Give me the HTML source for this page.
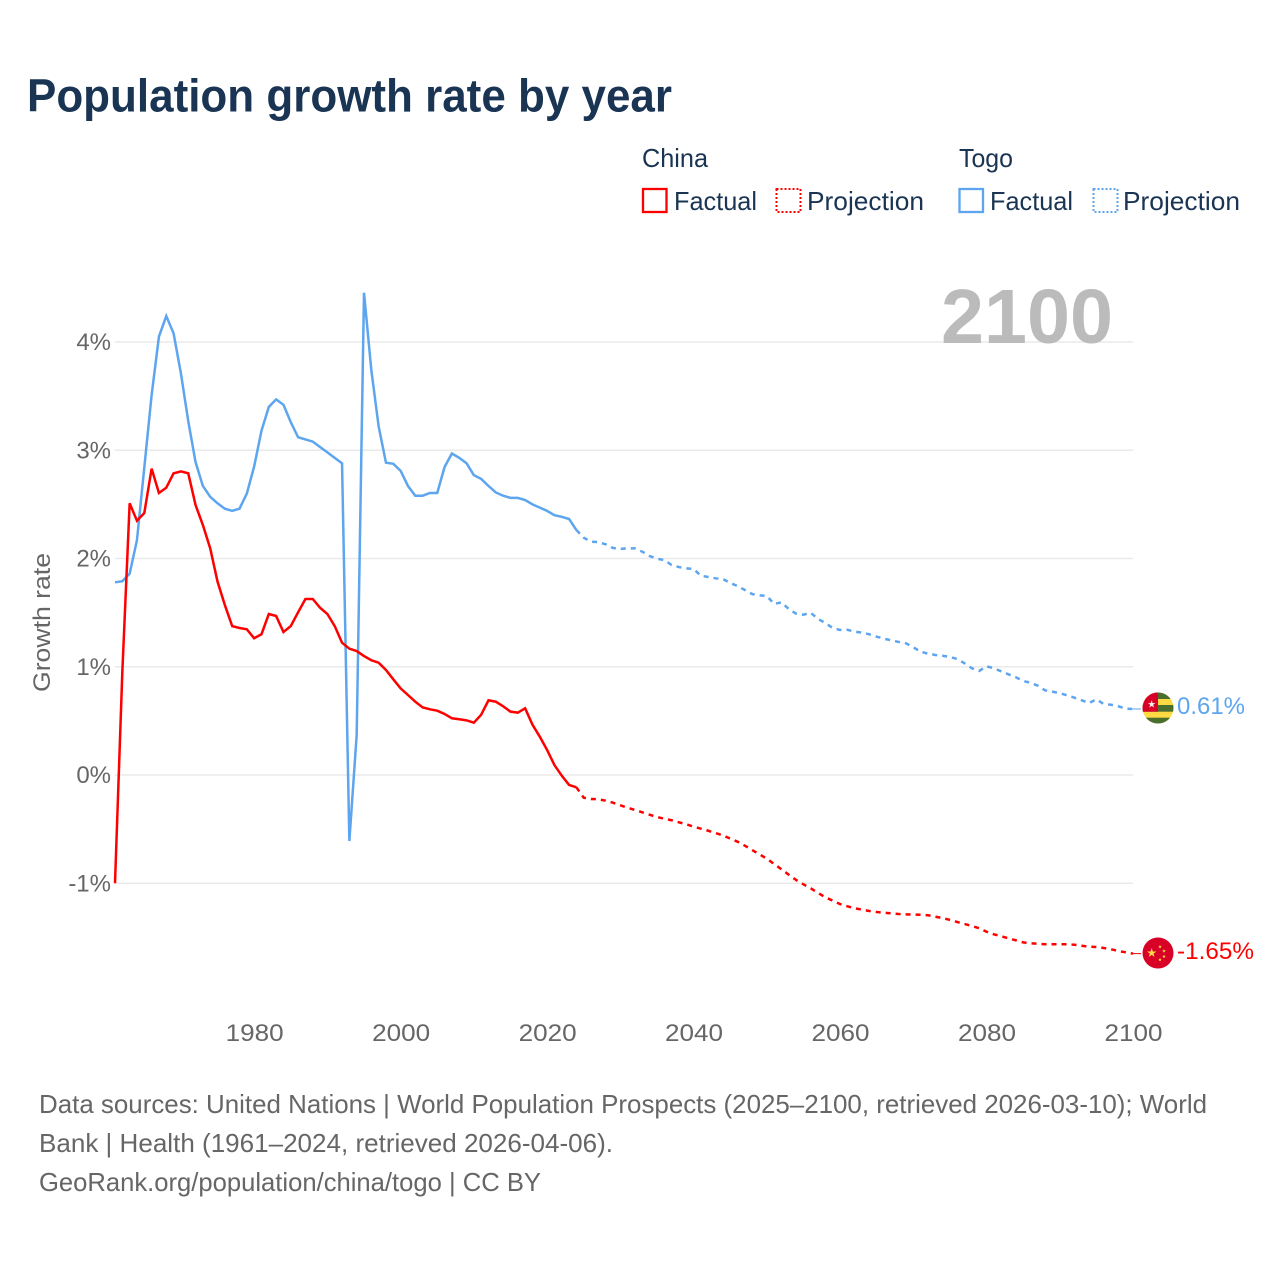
<!DOCTYPE html>
<html lang="en">
<head>
<meta charset="utf-8">
<title>Population growth rate by year</title>
<style>
html,body{margin:0;padding:0;background:#fff;}
svg{display:block;font-family:"Liberation Sans",sans-serif;}
</style>
</head>
<body>
<svg id="chart" xmlns="http://www.w3.org/2000/svg" width="1280" height="1280" viewBox="0 0 1280 1280">
  <rect x="0" y="0" width="1280" height="1280" fill="#ffffff"/>
  <text x="27" y="111.5" font-size="46" font-weight="700" fill="#1a3453" textLength="645" lengthAdjust="spacingAndGlyphs">Population growth rate by year</text>

  <g fill="#1a3453" font-size="26">
    <text x="642" y="167" textLength="66" lengthAdjust="spacingAndGlyphs">China</text>
    <text x="959" y="167" textLength="54" lengthAdjust="spacingAndGlyphs">Togo</text>
    <rect x="643" y="189" width="23.5" height="23" fill="none" stroke="#ff0000" stroke-width="2.3"/>
    <text x="674" y="210" textLength="83" lengthAdjust="spacingAndGlyphs">Factual</text>
    <rect x="776.5" y="189" width="24" height="23" fill="none" stroke="#ff0000" stroke-width="2" stroke-dasharray="2 2"/>
    <text x="807" y="210" textLength="117" lengthAdjust="spacingAndGlyphs">Projection</text>
    <rect x="959.5" y="189" width="23.5" height="23" fill="none" stroke="#5da5ee" stroke-width="2.3"/>
    <text x="990" y="210" textLength="83" lengthAdjust="spacingAndGlyphs">Factual</text>
    <rect x="1093.5" y="189" width="24" height="23" fill="none" stroke="#5da5ee" stroke-width="2" stroke-dasharray="2 2"/>
    <text x="1123" y="210" textLength="117" lengthAdjust="spacingAndGlyphs">Projection</text>
  </g>

  <g id="grid"></g>
  <text x="941" y="343" font-size="77" font-weight="700" fill="#bbbbbb" textLength="172" lengthAdjust="spacingAndGlyphs">2100</text>
  <g id="yticks" font-size="24" fill="#666666"></g>
  <g id="xticks" font-size="24" fill="#666666"></g>
  <text transform="translate(50,692) rotate(-90)" x="0" y="0" font-size="24" fill="#666666" textLength="139" lengthAdjust="spacingAndGlyphs">Growth rate</text>
  <g id="series"></g>

  <defs>
    <clipPath id="flag-clip-togo"><circle cx="1158" cy="708" r="15.5"/></clipPath>
    <clipPath id="flag-clip-china"><circle cx="1158" cy="953" r="15.5"/></clipPath>
  </defs>
  <g clip-path="url(#flag-clip-togo)">
    <rect x="1142" y="692" width="32" height="32" fill="#ffda44"/>
    <rect x="1142" y="692" width="32" height="7" fill="#496e2d"/>
    <rect x="1142" y="705" width="32" height="6.7" fill="#496e2d"/>
    <rect x="1142" y="717.7" width="32" height="6.5" fill="#496e2d"/>
    <rect x="1142" y="692" width="16" height="19.7" fill="#d80027"/>
    <polygon transform="translate(1151.7,704.3) scale(4)" fill="#f0f0f0" points="0,-1 .225,-.309 .951,-.309 .363,.118 .588,.809 0,.382 -.588,.809 -.363,.118 -.951,-.309 -.225,-.309"/>
  </g>
  <g clip-path="url(#flag-clip-china)">
    <rect x="1142" y="937" width="32" height="32" fill="#d80027"/>
    <polygon transform="translate(1151.7,953) scale(5)" fill="#ffda44" points="0,-1 .225,-.309 .951,-.309 .363,.118 .588,.809 0,.382 -.588,.809 -.363,.118 -.951,-.309 -.225,-.309"/>
    <polygon transform="translate(1160,946.7) scale(2)" fill="#ffda44" points="0,-1 .225,-.309 .951,-.309 .363,.118 .588,.809 0,.382 -.588,.809 -.363,.118 -.951,-.309 -.225,-.309"/>
    <polygon transform="translate(1164,951) scale(2)" fill="#ffda44" points="0,-1 .225,-.309 .951,-.309 .363,.118 .588,.809 0,.382 -.588,.809 -.363,.118 -.951,-.309 -.225,-.309"/>
    <polygon transform="translate(1164,956.5) scale(2)" fill="#ffda44" points="0,-1 .225,-.309 .951,-.309 .363,.118 .588,.809 0,.382 -.588,.809 -.363,.118 -.951,-.309 -.225,-.309"/>
    <polygon transform="translate(1160,959.7) scale(2)" fill="#ffda44" points="0,-1 .225,-.309 .951,-.309 .363,.118 .588,.809 0,.382 -.588,.809 -.363,.118 -.951,-.309 -.225,-.309"/>
  </g>
  <text x="1177" y="714" font-size="24" fill="#5da5ee" textLength="68" lengthAdjust="spacingAndGlyphs">0.61%</text>
  <text x="1177" y="959" font-size="24" fill="#ff0000" textLength="77" lengthAdjust="spacingAndGlyphs">-1.65%</text>

  <g font-size="26" fill="#666666">
    <text x="39" y="1113" textLength="1168" lengthAdjust="spacingAndGlyphs">Data sources: United Nations | World Population Prospects (2025–2100, retrieved 2026-03-10); World</text>
    <text x="39" y="1152" textLength="574" lengthAdjust="spacingAndGlyphs">Bank | Health (1961–2024, retrieved 2026-04-06).</text>
    <text x="39" y="1191" textLength="502" lengthAdjust="spacingAndGlyphs">GeoRank.org/population/china/togo | CC BY</text>
  </g>
</svg>
<script>
var xTickLabels = [1980, 2000, 2020, 2040, 2060, 2080, 2100];
var yTickLabels = [4, 3, 2, 1, 0, -1];
var factualStartYear = 1961;
var projectionStartYear = 2025;

var chinaFactual = [-1.00,0.95,2.51,2.349,2.42,2.83,2.605,2.654,2.787,2.805,2.787,2.494,2.309,2.094,1.786,1.57,1.376,1.358,1.346,1.263,1.30,1.487,1.469,1.321,1.376,1.503,1.626,1.626,1.545,1.487,1.376,1.222,1.167,1.145,1.099,1.06,1.037,0.97,0.884,0.80,0.739,0.677,0.625,0.607,0.594,0.564,0.524,0.515,0.505,0.483,0.557,0.69,0.677,0.635,0.585,0.576,0.616,0.465,0.354,0.231,0.092,-0.006,-0.092,-0.114];
var chinaProjection = [-0.21,-0.222,-0.224,-0.237,-0.256,-0.28,-0.302,-0.323,-0.345,-0.367,-0.388,-0.404,-0.418,-0.437,-0.455,-0.478,-0.496,-0.515,-0.536,-0.557,-0.588,-0.616,-0.653,-0.693,-0.733,-0.773,-0.822,-0.871,-0.921,-0.97,-1.01,-1.047,-1.09,-1.13,-1.161,-1.192,-1.213,-1.231,-1.244,-1.256,-1.266,-1.272,-1.278,-1.284,-1.287,-1.289,-1.291,-1.296,-1.309,-1.321,-1.339,-1.358,-1.376,-1.395,-1.416,-1.448,-1.472,-1.49,-1.509,-1.527,-1.546,-1.555,-1.558,-1.564,-1.564,-1.564,-1.564,-1.568,-1.577,-1.586,-1.589,-1.598,-1.61,-1.626,-1.638,-1.65];
var togoFactual = [1.78,1.79,1.86,2.17,2.84,3.51,4.05,4.24,4.08,3.71,3.27,2.89,2.67,2.57,2.51,2.46,2.44,2.46,2.60,2.85,3.18,3.40,3.47,3.42,3.26,3.12,3.10,3.08,3.03,2.98,2.93,2.88,-0.61,0.37,4.455,3.74,3.22,2.885,2.875,2.81,2.67,2.58,2.58,2.605,2.605,2.845,2.97,2.93,2.88,2.77,2.735,2.67,2.61,2.58,2.56,2.56,2.54,2.50,2.47,2.44,2.40,2.385,2.365,2.263];
var togoProjection = [2.192,2.155,2.152,2.131,2.097,2.088,2.094,2.094,2.063,2.023,1.998,1.986,1.94,1.921,1.909,1.903,1.841,1.829,1.817,1.811,1.774,1.746,1.709,1.672,1.66,1.654,1.58,1.595,1.533,1.49,1.481,1.499,1.441,1.404,1.358,1.34,1.342,1.324,1.315,1.3,1.278,1.259,1.244,1.229,1.217,1.18,1.139,1.121,1.109,1.102,1.09,1.072,1.032,0.986,0.961,1.004,0.986,0.958,0.93,0.903,0.868,0.853,0.825,0.782,0.77,0.755,0.736,0.714,0.69,0.665,0.699,0.656,0.649,0.635,0.612,0.61];

var SVG_NS = 'http://www.w3.org/2000/svg';
var plotLeft = 115, plotRight = 1133;
function xScale(year) { return plotLeft + (year - 1961) * (plotRight - plotLeft) / 139; }
function yScale(value) { return 775 - value * 108.25; }

var gridGroup = document.getElementById('grid');
var yTickGroup = document.getElementById('yticks');
var xTickGroup = document.getElementById('xticks');
var seriesGroup = document.getElementById('series');

yTickLabels.forEach(function (tick) {
  var line = document.createElementNS(SVG_NS, 'line');
  
  
  line.setAttribute('x1', plotLeft);
  line.setAttribute('x2', plotRight);
  line.setAttribute('y1', yScale(tick));
  line.setAttribute('y2', yScale(tick));
  line.setAttribute('stroke', '#eaeaea');
  line.setAttribute('stroke-width', '1.5');
  gridGroup.appendChild(line);

  var label = document.createElementNS(SVG_NS, 'text');
  
  
  label.setAttribute('x', 111);
  label.setAttribute('y', yScale(tick) + 8);
  label.setAttribute('text-anchor', 'end');
  label.textContent = tick + '%';
  yTickGroup.appendChild(label);
});

xTickLabels.forEach(function (tick) {
  var label = document.createElementNS(SVG_NS, 'text');
  
  
  label.setAttribute('x', xScale(tick) - 29 + 0.5);
  label.setAttribute('y', 1041);
  label.setAttribute('textLength', 58);
  label.setAttribute('lengthAdjust', 'spacingAndGlyphs');
  label.textContent = tick;
  xTickGroup.appendChild(label);
});

function pathFrom(values, startYear, leadPoint) {
  var parts = [];
  if (leadPoint) { parts.push(xScale(leadPoint.year).toFixed(2) + ',' + yScale(leadPoint.value).toFixed(2)); }
  values.forEach(function (v, i) {
    parts.push(xScale(startYear + i).toFixed(2) + ',' + yScale(v).toFixed(2));
  });
  return 'M' + parts.join('L');
}

function drawSeries(name, factual, projection, color) {
  var solid = document.createElementNS(SVG_NS, 'path');
  
  
  solid.setAttribute('d', pathFrom(factual, factualStartYear, null));
  solid.setAttribute('fill', 'none');
  solid.setAttribute('stroke', color);
  solid.setAttribute('stroke-width', '2.5');
  seriesGroup.appendChild(solid);

  var dashed = document.createElementNS(SVG_NS, 'path');
  
  
  dashed.setAttribute('d', pathFrom(projection, projectionStartYear, { year: projectionStartYear - 1, value: factual[factual.length - 1] }));
  dashed.setAttribute('fill', 'none');
  dashed.setAttribute('stroke', color);
  dashed.setAttribute('stroke-width', '2.5');
  dashed.setAttribute('stroke-dasharray', '5 5');
  seriesGroup.appendChild(dashed);

  var last = projection[projection.length - 1];
  var connector = document.createElementNS(SVG_NS, 'line');
  
  
  connector.setAttribute('x1', plotRight);
  connector.setAttribute('x2', plotRight + 8);
  connector.setAttribute('y1', yScale(last));
  connector.setAttribute('y2', yScale(last));
  connector.setAttribute('stroke', color);
  connector.setAttribute('stroke-width', '1');
  seriesGroup.appendChild(connector);
}

drawSeries('togo', togoFactual, togoProjection, '#5da5ee');
drawSeries('china', chinaFactual, chinaProjection, '#ff0000');
</script>
</body>
</html>
